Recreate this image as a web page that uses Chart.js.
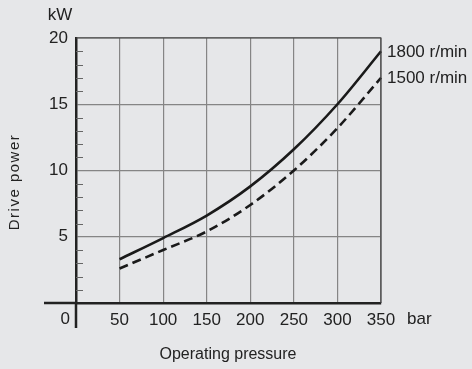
<!DOCTYPE html>
<html>
<head>
<meta charset="utf-8">
<script src="https://cdn.jsdelivr.net/npm/chart.js@4/dist/chart.umd.min.js"></script>
<style>
html,body{margin:0;padding:0;background:#e6e7e9;}
#wrap{width:472px;height:369px;}
</style>
</head>
<body>
<div id="wrap"><canvas id="c" width="472" height="369"></canvas></div>
<script>
const pressure = [50, 100, 150, 200, 250, 300, 350];
const power1800 = [3.3, 4.9, 6.6, 8.8, 11.6, 15.0, 19.0];
const power1500 = [2.6, 4.0, 5.4, 7.4, 10.0, 13.2, 17.0];
const seriesLabels = ['1800 r/min', '1500 r/min'];
const xTicks = [0, 50, 100, 150, 200, 250, 300, 350];
const yTicks = [0, 5, 10, 15, 20];
const xUnit = 'bar';
const yUnit = 'kW';
const xTitle = 'Operating pressure';
const yTitle = 'Drive power';

const FONT = '"Liberation Sans", Arial, Helvetica, sans-serif';
const INK = '#222222';
const GRID = '#858585';

const decor = {
  id: 'decor',
  beforeDraw(chart) {
    const ctx = chart.ctx;
    ctx.save();
    ctx.fillStyle = '#e6e7e9';
    ctx.fillRect(0, 0, chart.width, chart.height);
    ctx.restore();
  },
  afterDraw(chart) {
    const ctx = chart.ctx;
    const xs = chart.scales.x, ys = chart.scales.y;
    const x0 = xs.getPixelForValue(0), y0 = ys.getPixelForValue(0);
    const xR = xs.getPixelForValue(350), yT = ys.getPixelForValue(20);
    ctx.save();
    // top and right frame
    ctx.strokeStyle = '#444';
    ctx.lineWidth = 1.2;
    ctx.beginPath();
    ctx.moveTo(x0, yT); ctx.lineTo(xR, yT); ctx.lineTo(xR, y0);
    ctx.stroke();
    // axis extensions
    ctx.strokeStyle = INK;
    ctx.lineWidth = 2.5;
    ctx.beginPath();
    ctx.moveTo(44, y0); ctx.lineTo(x0, y0);
    ctx.moveTo(x0, y0); ctx.lineTo(x0, y0 + 25);
    ctx.stroke();
    // minor ticks on y axis
    ctx.strokeStyle = '#666';
    ctx.lineWidth = 1.2;
    ctx.beginPath();
    for (let v = 1; v < 20; v++) {
      if (v % 5 === 0) continue;
      const py = Math.round(ys.getPixelForValue(v)) + 0.5;
      ctx.moveTo(x0, py); ctx.lineTo(x0 + 7, py);
    }
    ctx.stroke();
    // texts
    ctx.fillStyle = INK;
    ctx.font = '17px ' + FONT;
    ctx.textBaseline = 'middle';
    ctx.textAlign = 'right';
    ctx.fillText('0', x0 - 6, y0 + 16);
    ctx.textAlign = 'left';
    ctx.fillText(xUnit, xR + 26, y0 + 16);
    ctx.textAlign = 'center';
    ctx.fillText(yUnit, 60, 15);
    ctx.textAlign = 'left';
    const ds = chart.data.datasets;
    ds.forEach((d, i) => {
      const last = d.data[d.data.length - 1];
      ctx.fillText(seriesLabels[i], xs.getPixelForValue(last.x) + 6, ys.getPixelForValue(last.y) + 1);
    });
    ctx.font = '16px ' + FONT;
    ctx.textAlign = 'center';
    ctx.fillText(xTitle, 228, 355);
    ctx.save();
    ctx.translate(15, 182);
    ctx.rotate(-Math.PI / 2);
    ctx.font = '15px ' + FONT;
    try { ctx.letterSpacing = '1.5px'; } catch (e) {}
    ctx.fillText(yTitle, 0, 0);
    ctx.restore();
    ctx.restore();
  }
};

new Chart(document.getElementById('c'), {
  type: 'line',
  data: {
    datasets: [
      {
        label: seriesLabels[0],
        data: pressure.map((p, i) => ({x: p, y: power1800[i]})),
        borderColor: '#1a1a1a', borderWidth: 2.6, pointRadius: 0,
        cubicInterpolationMode: 'monotone', fill: false
      },
      {
        label: seriesLabels[1],
        data: pressure.map((p, i) => ({x: p, y: power1500[i]})),
        borderColor: '#1a1a1a', borderWidth: 2.6, borderDash: [9, 5], pointRadius: 0,
        cubicInterpolationMode: 'monotone', fill: false
      }
    ]
  },
  options: {
    responsive: false,
    animation: false,
    devicePixelRatio: 1,
    clip: false,
    layout: { padding: { top: 38, right: 91, left: 0, bottom: 0 } },
    plugins: { legend: { display: false }, tooltip: { enabled: false } },
    scales: {
      x: {
        type: 'linear', min: 0, max: 350,
        afterBuildTicks: s => { s.ticks = xTicks.map(v => ({value: v})); },
        afterFit: s => { s.height = 66; },
        ticks: { color: INK, font: { size: 17, family: FONT }, padding: 7,
          callback: v => v === 0 ? '' : String(v), maxRotation: 0, autoSkip: false },
        grid: { color: GRID, lineWidth: 1.2, drawTicks: false },
        border: { color: INK, width: 2.5 }
      },
      y: {
        type: 'linear', min: 0, max: 20,
        afterBuildTicks: s => { s.ticks = yTicks.map(v => ({value: v})); },
        afterFit: s => { s.width = 76; },
        ticks: { color: INK, font: { size: 17, family: FONT }, padding: 8,
          callback: v => v === 0 ? '' : String(v) },
        grid: { color: GRID, lineWidth: 1.2, drawTicks: false },
        border: { color: INK, width: 2.5 }
      }
    }
  },
  plugins: [decor]
});
</script>
</body>
</html>
